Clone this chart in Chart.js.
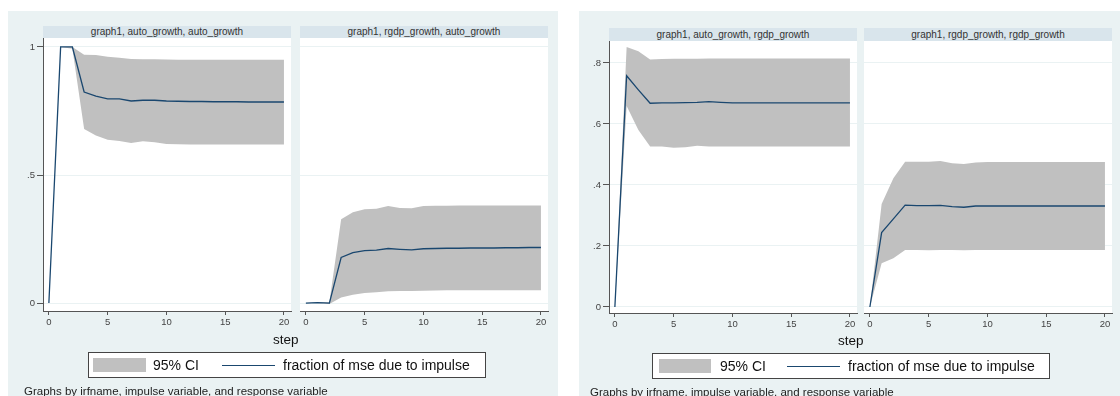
<!DOCTYPE html>
<html>
<head>
<meta charset="utf-8">
<script src="https://cdn.jsdelivr.net/npm/chart.js@4.4.1/dist/chart.umd.min.js"></script>
<style>
  html, body { margin: 0; padding: 0; background: #fff; }
  body { width: 1120px; height: 396px; position: relative; overflow: hidden;
         font-family: "Liberation Sans", Arial, sans-serif; color: #111; }
  .abs { position: absolute; }
  .bg { background: #eaf2f3; }
  .strip { background: #d9e5ec; font-size: 10px; text-align: center; color: #333; white-space: nowrap; }
  .xtitle { font-size: 13.5px; line-height: 16px; }
  .legend { background: #fff; border: 1px solid #444; box-sizing: border-box; }
  .swatch { background: #c0c0c0; }
  .sample { background: #1a476f; height: 1px; }
  .ltext { font-size: 14px; line-height: 16px; white-space: nowrap; }
  .note { font-size: 11.5px; line-height: 14px; white-space: nowrap; color: #222; }
</style>
</head>
<body>
<script>
// ---- data -------------------------------------------------------------
const steps = [0, 1, 2, 3, 4, 5, 6, 7, 8, 9, 10, 11, 12, 13, 14, 15, 16, 17, 18, 19, 20];
const xTicks = [0, 5, 10, 15, 20];
const yTicksLeft = [0, 0.5, 1];
const yTickLabelsLeft = ['0', '.5', '1'];
const yTicksRight = [0, 0.2, 0.4, 0.6, 0.8];
const yTickLabelsRight = ['0', '.2', '.4', '.6', '.8'];

const panelTitles = [
    'graph1, auto_growth, auto_growth',
    'graph1, rgdp_growth, auto_growth',
    'graph1, auto_growth, rgdp_growth',
    'graph1, rgdp_growth, rgdp_growth'
];
const legendLabels = ['95% CI', 'fraction of mse due to impulse'];
const xTitle = 'step';
const noteText = 'Graphs by irfname, impulse variable, and response variable';

// impulse auto_growth -> response auto_growth
const fevdAutoAuto  = [0, 1, 1, .824, .808, .797, .797, .789, .792, .792, .789, .788, .787, .787, .786, .786, .786, .785, .785, .785, .785];
const upperAutoAuto = [0, 1, 1, .970, .969, .962, .958, .953, .952, .952, .951, .950, .950, .950, .950, .950, .950, .950, .950, .950, .950];
const lowerAutoAuto = [0, 1, .993, .680, .654, .638, .633, .625, .632, .628, .621, .620, .619, .619, .619, .619, .619, .619, .619, .619, .619];

// impulse rgdp_growth -> response auto_growth
const fevdRgdpAuto  = [0, .002, 0, .178, .197, .205, .207, .213, .210, .208, .212, .213, .214, .214, .215, .215, .215, .216, .216, .217, .217];
const upperRgdpAuto = [0, .003, .003, .327, .355, .366, .368, .379, .371, .370, .379, .380, .380, .381, .381, .381, .381, .381, .381, .381, .381];
const lowerRgdpAuto = [0, 0, -.004, .022, .032, .039, .042, .046, .047, .047, .048, .049, .050, .050, .050, .050, .050, .050, .050, .050, .050];

// impulse auto_growth -> response rgdp_growth
const fevdAutoRgdp  = [0, .758, .712, .668, .669, .669, .670, .671, .673, .671, .669, .669, .669, .669, .669, .669, .669, .669, .669, .669, .669];
const upperAutoRgdp = [0, .852, .838, .811, .813, .814, .814, .814, .815, .815, .815, .815, .815, .815, .815, .815, .815, .815, .815, .815, .815];
const lowerAutoRgdp = [0, .659, .580, .526, .526, .522, .524, .529, .526, .526, .526, .526, .526, .526, .526, .526, .526, .526, .526, .526, .526];

// impulse rgdp_growth -> response rgdp_growth
const fevdRgdpRgdp  = [0, .244, .289, .334, .332, .332, .333, .329, .327, .331, .331, .331, .331, .331, .331, .331, .331, .331, .331, .331, .331];
const upperRgdpRgdp = [0, .338, .422, .476, .476, .476, .479, .471, .469, .474, .475, .475, .475, .475, .475, .475, .475, .475, .475, .475, .475];
const lowerRgdpRgdp = [0, .143, .160, .187, .187, .186, .187, .187, .186, .187, .187, .187, .187, .187, .187, .187, .187, .187, .187, .187, .187];

// ---- helpers ----------------------------------------------------------
const BG = '#eaf2f3';
const LINE = '#1a476f';
const BAND = '#c0c0c0';
const AXIS = '#555';
const PAD = 8;     // spare room round the plot area for label overflow
const YW = 40;     // width kept for y tick labels
const XH = 22;     // height kept for x tick labels
const TICK_FONT = { size: 9.5, family: '"Liberation Sans", Arial, sans-serif' };

function addDiv(cls, left, top, width, height, text) {
    const d = document.createElement('div');
    d.className = 'abs ' + cls;
    d.style.left = left + 'px';
    d.style.top = top + 'px';
    if (width != null) d.style.width = width + 'px';
    if (height != null) d.style.height = height + 'px';
    if (text != null) d.textContent = text;
    document.body.appendChild(d);
    return d;
}

// white inner plot region, as Stata draws it
const whitePlot = {
    id: 'whitePlot',
    beforeDraw(chart) {
        const a = chart.chartArea;
        chart.ctx.save();
        chart.ctx.fillStyle = '#fff';
        chart.ctx.fillRect(a.left, a.top, a.right - a.left, a.bottom - a.top);
        chart.ctx.restore();
    }
};

function toPoints(vals) {
    return steps.map((s, i) => ({ x: s, y: vals[i] }));
}

function makePanel(area, yRange, yTicks, yLabels, showY, fevd, upper, lower) {
    const yw = showY ? YW : 0;
    const cv = document.createElement('canvas');
    const w = yw + (area.r - area.l) + 2 * PAD;
    const h = PAD + (area.b - area.t) + XH;
    cv.width = w;
    cv.height = h;
    cv.className = 'abs';
    cv.style.left = (area.l - yw - PAD) + 'px';
    cv.style.top = (area.t - PAD) + 'px';
    cv.style.width = w + 'px';
    cv.style.height = h + 'px';
    document.body.appendChild(cv);

    new Chart(cv.getContext('2d'), {
        type: 'line',
        data: {
            datasets: [
                { data: toPoints(fevd), borderColor: LINE, borderWidth: 1.3, pointRadius: 0, fill: false, tension: 0 },
                { data: toPoints(upper), borderWidth: 0, pointRadius: 0, backgroundColor: BAND, fill: '+1', tension: 0 },
                { data: toPoints(lower), borderWidth: 0, pointRadius: 0, fill: false, tension: 0 }
            ]
        },
        options: {
            responsive: false,
            animation: false,
            devicePixelRatio: 1,
            layout: { padding: { top: PAD, right: PAD, left: PAD, bottom: 0 } },
            plugins: { legend: { display: false }, tooltip: { enabled: false } },
            scales: {
                x: {
                    type: 'linear',
                    min: -0.5,
                    max: 20.6,
                    afterBuildTicks: s => { s.ticks = xTicks.map(v => ({ value: v })); },
                    afterFit: s => { s.height = XH; },
                    ticks: { font: TICK_FONT, color: '#444', padding: 2, maxRotation: 0 },
                    grid: { drawOnChartArea: false, tickLength: 4, tickColor: AXIS },
                    border: { color: AXIS, width: 1 }
                },
                y: {
                    type: 'linear',
                    min: yRange[0],
                    max: yRange[1],
                    afterBuildTicks: s => { s.ticks = yTicks.map(v => ({ value: v })); },
                    afterFit: s => { s.width = yw; },
                    ticks: {
                        display: showY,
                        font: TICK_FONT,
                        color: '#444',
                        padding: 2,
                        callback: (v, i) => yLabels[i]
                    },
                    grid: { color: BG, lineWidth: 1, drawTicks: showY, tickLength: 6, tickColor: AXIS },
                    border: { display: showY, color: AXIS, width: 1 }
                }
            }
        },
        plugins: [whitePlot]
    });
}

// ---- layout -----------------------------------------------------------
// left graph (response auto_growth)
addDiv('bg', 8, 11, 550, 385);
addDiv('strip', 43, 26, 248, 12, panelTitles[0]).style.lineHeight = '12px';
addDiv('strip', 300, 26, 248, 12, panelTitles[1]).style.lineHeight = '12px';
makePanel({ l: 43, t: 38, r: 291, b: 311 }, [-0.031, 1.035], yTicksLeft, yTickLabelsLeft, true,
    fevdAutoAuto, upperAutoAuto, lowerAutoAuto);
makePanel({ l: 300, t: 38, r: 548, b: 311 }, [-0.031, 1.035], yTicksLeft, yTickLabelsLeft, false,
    fevdRgdpAuto, upperRgdpAuto, lowerRgdpAuto);
addDiv('xtitle', 273, 332, null, null, xTitle);
addDiv('legend', 88, 352, 398, 26);
addDiv('swatch', 93, 358, 53, 14);
addDiv('ltext', 153, 357, null, null, legendLabels[0]);
addDiv('sample', 222, 365, 53, null);
addDiv('ltext', 283, 357, null, null, legendLabels[1]);
addDiv('note', 24, 384, null, null, noteText);

// right graph (response rgdp_growth)
addDiv('bg', 579, 11, 541, 385);
addDiv('strip', 609, 28, 248, 13, panelTitles[2]).style.lineHeight = '13px';
addDiv('strip', 864, 28, 248, 13, panelTitles[3]).style.lineHeight = '13px';
makePanel({ l: 609, t: 41, r: 857, b: 313 }, [-0.0197, 0.872], yTicksRight, yTickLabelsRight, true,
    fevdAutoRgdp, upperAutoRgdp, lowerAutoRgdp);
makePanel({ l: 864, t: 41, r: 1112, b: 313 }, [-0.0197, 0.872], yTicksRight, yTickLabelsRight, false,
    fevdRgdpRgdp, upperRgdpRgdp, lowerRgdpRgdp);
addDiv('xtitle', 838, 333, null, null, xTitle);
addDiv('legend', 652, 353, 398, 26);
addDiv('swatch', 659, 359, 52, 14);
addDiv('ltext', 720, 358, null, null, legendLabels[0]);
addDiv('sample', 787, 366, 53, null);
addDiv('ltext', 848, 358, null, null, legendLabels[1]);
addDiv('note', 590, 385, null, null, noteText);
</script>
</body>
</html>
